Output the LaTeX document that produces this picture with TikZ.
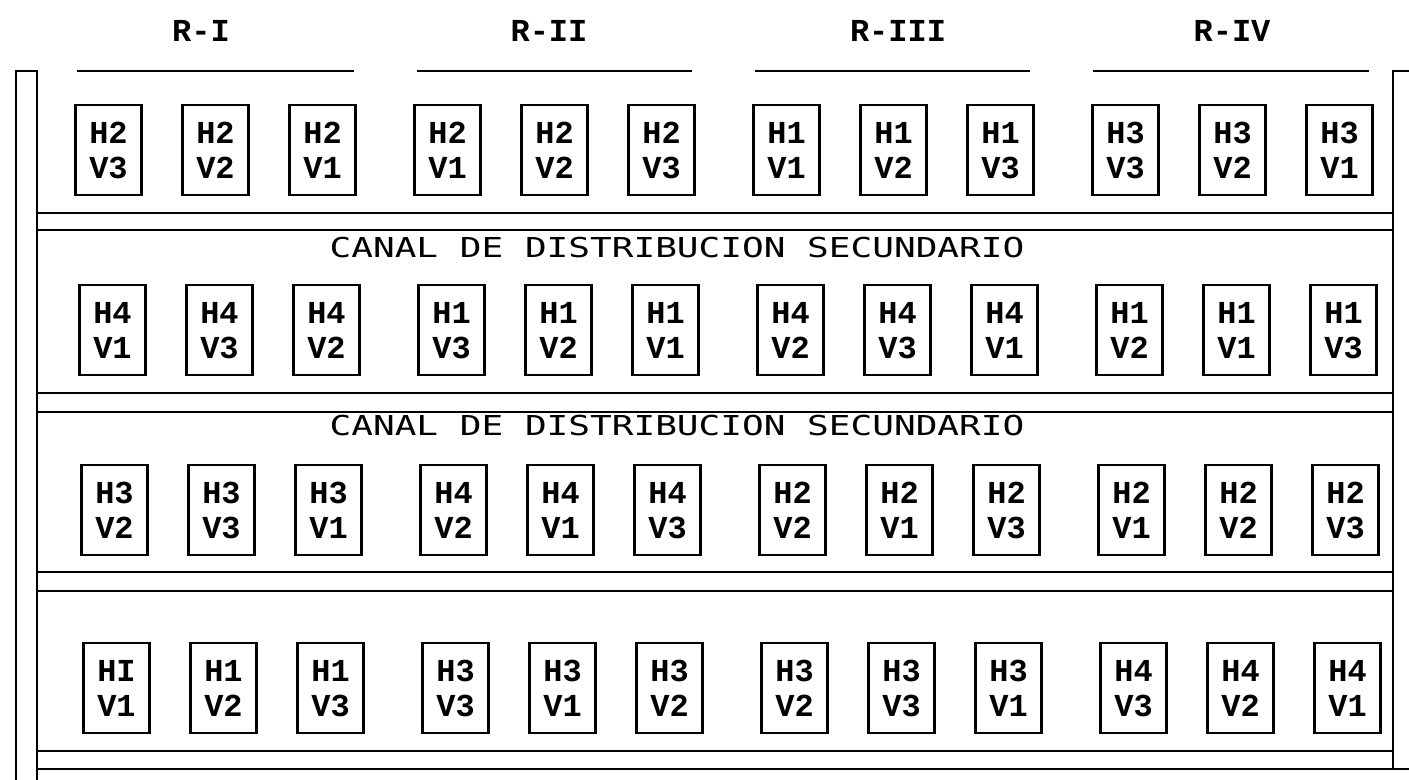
\documentclass[tikz,border=0pt]{standalone}
\usepackage{graphicx}
\usepackage{fontspec}
\usepackage{tikz}

\newfontfamily\plotfont{Liberation Mono}
\newfontfamily\canalfont{DejaVu Sans Mono}
\newcommand\rotfont{\plotfont\bfseries\fontsize{16}{17.5}\selectfont}
\newcommand\canaltext{\scalebox{1.316}[1]{\canalfont\fontsize{13.7}{14}\selectfont CANAL DE DISTRIBUCION SECUNDARIO}}

\begin{document}
\begin{tikzpicture}[x=0.5pt, y=-0.5pt,
        parcela/.style={draw, line width=1.3pt, minimum width=33pt, minimum height=45pt, inner sep=0pt,
            align=center, text height=28.2pt, text depth=-1.5pt, font=\rotfont},
        rotulo/.style={anchor=base, font=\rotfont},
        canal/.style={anchor=base, inner sep=0pt},
        linea/.style={line width=1.4pt}
    ]
    \useasboundingbox (0,0) rectangle (1409,780);

    % bordes laterales
    \draw[linea] (16,780) -- (16,71) -- (37,71) -- (37,780);
    \draw[linea] (1409,71) -- (1393,71) -- (1393,769);

    % canales de distribucion
    \foreach \yy in {213,230,393,412,572,591,751}
        \draw[linea] (37,\yy) -- (1393,\yy);
    \draw[linea] (37,769) -- (1409,769);
    \node[canal] (canal-1) at (677,258) {\canaltext};
    \node[canal] (canal-2) at (677,436) {\canaltext};

    % repeticiones R-I ... R-IV
    \foreach \xa/\xb/\xt/\rep [count=\k] in {77/354/201/R-I, 417/692/549/R-II, 755/1030/898/R-III, 1093/1369/1232/R-IV} {
        \node[rotulo] (rep-\k) at (\xt,42) {\rep};
        \draw[linea] (\xa,71) -- (\xb,71);
    }

    % fila 1
    \foreach \h/\v [count=\i from 0] in {H2/V3, H2/V2, H2/V1, H2/V1, H2/V2, H2/V3, H1/V1, H1/V2, H1/V3, H3/V3, H3/V2, H3/V1} {
        \pgfmathsetmacro\xx{108.5+339*int(\i/3)+107*mod(\i,3)}
        \node[parcela] (p-1-\i) at (\xx,150) {\h\\\v};
    }

    % fila 2
    \foreach \h/\v [count=\i from 0] in {H4/V1, H4/V3, H4/V2, H1/V3, H1/V2, H1/V1, H4/V2, H4/V3, H4/V1, H1/V2, H1/V1, H1/V3} {
        \pgfmathsetmacro\xx{112.5+339*int(\i/3)+107*mod(\i,3)}
        \node[parcela] (p-2-\i) at (\xx,330) {\h\\\v};
    }

    % fila 3
    \foreach \h/\v [count=\i from 0] in {H3/V2, H3/V3, H3/V1, H4/V2, H4/V1, H4/V3, H2/V2, H2/V1, H2/V3, H2/V1, H2/V2, H2/V3} {
        \pgfmathsetmacro\xx{114.5+339*int(\i/3)+107*mod(\i,3)}
        \node[parcela] (p-3-\i) at (\xx,510) {\h\\\v};
    }

    % fila 4
    \foreach \h/\v [count=\i from 0] in {HI/V1, H1/V2, H1/V3, H3/V3, H3/V1, H3/V2, H3/V2, H3/V3, H3/V1, H4/V3, H4/V2, H4/V1} {
        \pgfmathsetmacro\xx{116.5+339*int(\i/3)+107*mod(\i,3)}
        \node[parcela] (p-4-\i) at (\xx,688) {\h\\\v};
    }

\end{tikzpicture}
\end{document}
